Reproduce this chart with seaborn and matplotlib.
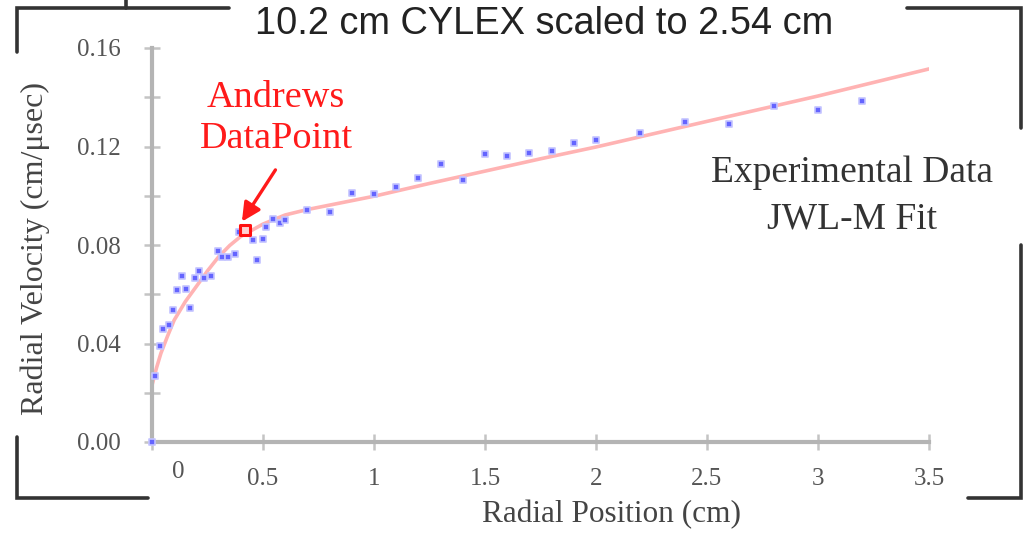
import matplotlib
matplotlib.use("Agg")
import matplotlib.pyplot as plt
from matplotlib.lines import Line2D
import seaborn as sns
import pandas as pd

# Experimental radial velocity measurements (cm, cm/usec)
exp_x = [0.0, 0.014, 0.036, 0.05, 0.077, 0.095, 0.171, 0.113, 0.153, 0.135,
         0.212, 0.194, 0.234, 0.266, 0.297, 0.315, 0.342, 0.374, 0.392, 0.455,
         0.5, 0.473, 0.514, 0.545, 0.577, 0.6, 0.7, 0.8, 0.9, 1.0, 1.1, 1.2,
         1.3, 1.4, 1.5, 1.6, 1.7, 1.8, 1.9, 2.0, 2.2, 2.4, 2.6, 2.8, 3.0, 3.2]
exp_v = [0.0, 0.0268, 0.039, 0.0459, 0.0475, 0.0536, 0.0544, 0.0617, 0.0621,
         0.0674, 0.0695, 0.0666, 0.0666, 0.0674, 0.0776, 0.0751, 0.0751, 0.0764,
         0.0853, 0.082, 0.0824, 0.0739, 0.0873, 0.0906, 0.089, 0.0902, 0.0942,
         0.0934, 0.1011, 0.1007, 0.1036, 0.1072, 0.1129, 0.1064, 0.117, 0.1162,
         0.1174, 0.1182, 0.1214, 0.1227, 0.1255, 0.130, 0.129, 0.1365, 0.135,
         0.1385]

# JWL-M fit curve
fit_x = [0.0, 0.02, 0.04, 0.07, 0.1, 0.15, 0.2, 0.25, 0.3, 0.35, 0.4, 0.5,
         0.6, 0.7, 0.8, 0.9, 1.0, 1.25, 1.5, 1.75, 2.0, 2.5, 3.0, 3.5]
fit_v = [0.023, 0.030, 0.036, 0.043, 0.0495, 0.057, 0.0632, 0.0695, 0.0752,
         0.0798, 0.0835, 0.0885, 0.0922, 0.0944, 0.0962, 0.0980, 0.0998,
         0.1050, 0.1100, 0.1150, 0.1198, 0.1302, 0.1405, 0.1515]

# Andrews data point
andrews_x = [0.42]
andrews_v = [0.0861]

x_ticks = [0, 0.5, 1, 1.5, 2, 2.5, 3, 3.5]
x_tick_labels = ["0", "0.5", "1", "1.5", "2", "2.5", "3", "3.5"]
y_ticks = [0.00, 0.04, 0.08, 0.12, 0.16]
y_tick_labels = ["0.00", "0.04", "0.08", "0.12", "0.16"]

sns.set_style("white")
plt.rcParams["font.family"] = ["Liberation Serif", "DejaVu Serif"]

W, H = 1028, 540
fig = plt.figure(figsize=(W / 100, H / 100), dpi=100)
ax = fig.add_axes([152 / W, 1 - 442 / H, 777 / W, 394 / H])

exp_df = pd.DataFrame({"x": exp_x, "v": exp_v})
fit_df = pd.DataFrame({"x": fit_x, "v": fit_v})

sns.lineplot(data=fit_df, x="x", y="v", ax=ax, color="#ffb3b3", lw=2.6,
             zorder=2)
sns.scatterplot(data=exp_df, x="x", y="v", ax=ax, marker="s", s=14,
                color="#6464ff", edgecolor="#c4c4ff", linewidth=1.2, zorder=5,
                clip_on=False)
ax.scatter(andrews_x, andrews_v, marker="s", s=50, facecolor="#ffd0d0",
           edgecolor="#ff1010", linewidth=2.2, zorder=6)

ax.set_xlim(0, 3.5)
ax.set_ylim(0, 0.16)

# spines
for side in ("top", "right"):
    ax.spines[side].set_visible(False)
for side in ("left", "bottom"):
    ax.spines[side].set_color("#b4b4b4")
    ax.spines[side].set_linewidth(3)

ax.set_xticks(x_ticks)
ax.set_xticklabels([""] + x_tick_labels[1:])
ax.set_yticks(y_ticks)
ax.set_yticklabels(y_tick_labels)
ax.set_yticks([0.02, 0.06, 0.10, 0.14], minor=True)
ax.tick_params(axis="x", which="both", bottom=True, direction="inout",
               length=12, width=1.8, color="#c4c4c4", labelsize=18,
               labelcolor="#555555", pad=13)
ax.tick_params(axis="y", which="both", left=True, direction="inout",
               length=11, width=1.8, color="#c4c4c4", labelsize=18,
               labelcolor="#555555", pad=17)

# the zero label sits a little right of its tick
ax.annotate("0", xy=(0, 0), xycoords=("data", "axes fraction"),
            xytext=(26, -19), textcoords="offset pixels", ha="center",
            va="top", fontsize=18, color="#555555")

ax.set_xlabel("Radial Position (cm)", fontsize=22.5, color="#444444")
ax.set_ylabel("Radial Velocity (cm/\u03bcsec)", fontsize=23, color="#444444")
ax.xaxis.set_label_coords((612 - 152) / 777, (442 - 500) / 394)
ax.yaxis.set_label_coords((50 - 152) / 777, 0.49)

# annotations
ax.text(0.559, 0.136, "Andrews", color="#ff1a1a", fontsize=27.5, ha="center",
        va="baseline")
ax.text(0.559, 0.1194, "DataPoint", color="#ff1a1a", fontsize=27.5,
        ha="center", va="baseline")
ax.annotate("", xy=(0.405, 0.0895), xytext=(0.556, 0.1105),
            arrowprops=dict(arrowstyle="-|>", color="#ff1a1a", lw=2.4,
                            mutation_scale=28, shrinkA=0, shrinkB=0))
ax.text(3.153, 0.1056, "Experimental Data", color="#333333", fontsize=27,
        ha="center", va="baseline")
ax.text(3.153, 0.0869, "JWL-M Fit", color="#333333", fontsize=27,
        ha="center", va="baseline")

fig.text(544 / W, 1 - 34 / H, "10.2 cm CYLEX scaled to 2.54 cm",
         family="Liberation Sans", fontsize=27.4, color="#222222",
         ha="center", va="baseline")

# corner brackets framing the panel
def frame(px, py):
    fig.add_artist(Line2D([p / W for p in px], [1 - q / H for q in py],
                          color="#333333", lw=2.6, solid_joinstyle="miter",
                          transform=fig.transFigure))

frame([17, 17, 229], [52, 8, 8])
frame([126, 126], [0, 8])
frame([907, 1021, 1021], [8, 8, 128])
frame([1021, 1021, 968], [245, 498, 498])
frame([17, 17, 148], [437, 498, 498])

fig.savefig("out.png", dpi=100)
